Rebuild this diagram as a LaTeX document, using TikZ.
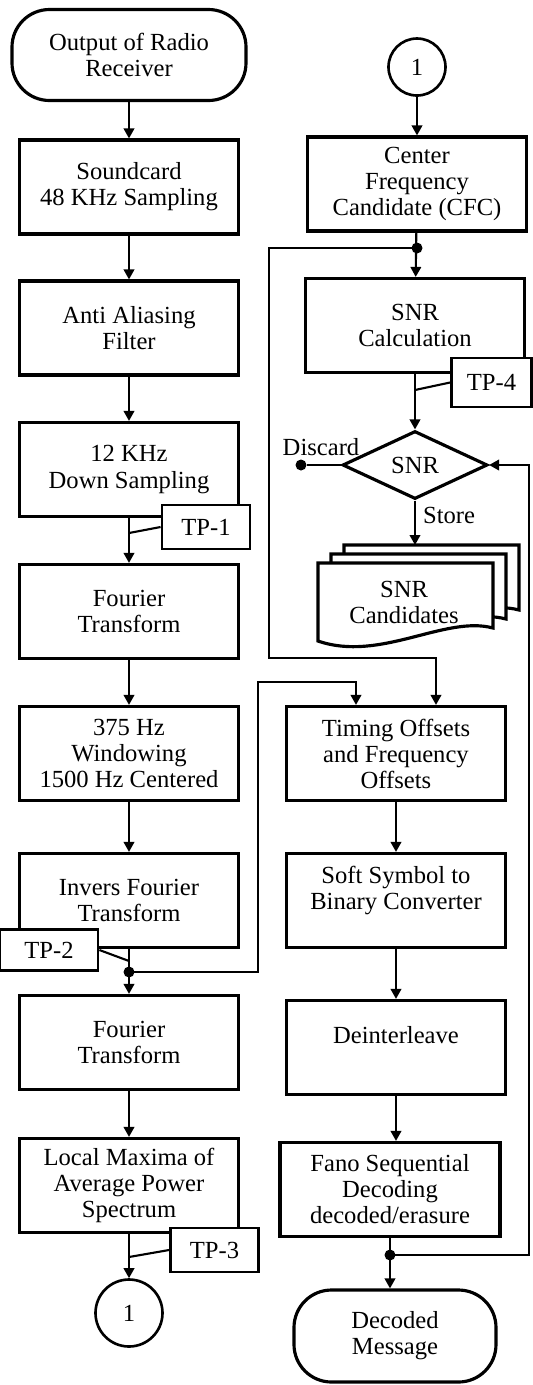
\documentclass[tikz,border=0pt]{standalone}
\usepackage{fontspec}
\setmainfont{Liberation Serif}
\usepackage{tikz}
\usetikzlibrary{arrows.meta,shapes.geometric}

\begin{document}
\begin{tikzpicture}[
  font=\fontsize{14}{14.8}\selectfont,
  box/.style={draw, line width=1.8pt, align=center, minimum width=4.38cm, minimum height=1.88cm, inner sep=2pt},
  term/.style={box, rounded corners=7.5mm, minimum height=1.82cm},
  tp/.style={draw, line width=1.6pt, fill=white, minimum width=1.76cm, minimum height=0.88cm, inner sep=1pt},
  conn/.style={draw, circle, line width=1.5pt, minimum size=1.34cm, inner sep=0pt},
  dec/.style={draw, diamond, aspect=2.1, line width=1.8pt, minimum width=2.9cm, minimum height=1.36cm, inner sep=1pt},
  dot/.style={circle, fill, inner sep=0pt, minimum size=0.22cm},
  doc/.style={draw, line width=1.8pt, fill=white},
  lbl/.style={inner sep=1pt},
  ln/.style={line width=1.2pt, draw=black},
  ar/.style={ln, -{Triangle[length=2mm, width=2.1mm]}}
]
  \useasboundingbox (0,0) rectangle (10.64,-27.70);

  \node[term, minimum width=4.68cm] (rx) at (2.58,-1.10) {Output of Radio\\Receiver};
  \node[box] (sc) at (2.58,-3.74) {Soundcard\\48 KHz Sampling};
  \node[box] (aaf) at (2.58,-6.56) {Anti Aliasing\\Filter};
  \node[box] (ds) at (2.58,-9.39) {12 KHz\\Down Sampling};
  \node[box] (ft1) at (2.58,-12.23) {Fourier\\Transform};
  \node[box] (win) at (2.58,-15.07) {375 Hz\\Windowing\\1500 Hz Centered};
  \node[box] (ift) at (2.58,-18.01) {Invers Fourier\\Transform};
  \node[box] (ft2) at (2.58,-20.85) {Fourier\\Transform};
  \node[box] (lmax) at (2.58,-23.71) {Local Maxima of\\Average Power\\Spectrum};
  \node[conn] (c1a) at (2.58,-26.26) {1};

  \node[tp] (tp1) at (4.12,-10.54) {TP-1};
  \node[tp, minimum width=1.96cm, minimum height=0.82cm] (tp2) at (0.98,-19.00) {TP-2};
  \node[tp] (tp3) at (4.29,-25.00) {TP-3};
  \node[dot] (d2) at (2.58,-19.44) {};
  \coordinate (j1) at (2.58,-10.66);
  \coordinate (j2) at (2.58,-19.22);
  \coordinate (j3) at (2.58,-25.14);

  \node[conn, minimum size=1.14cm] (c1b) at (8.34,-1.34) {1};
  \node[box] (cfc) at (8.34,-3.68) {Center\\Frequency\\Candidate (CFC)};
  \node[dot] (d1) at (8.34,-4.96) {};
  \node[box] (snrc) at (8.30,-6.51) {SNR\\Calculation};
  \node[tp, minimum width=1.6cm, minimum height=0.98cm] (tp4) at (9.83,-7.65) {TP-4};
  \coordinate (j4) at (8.30,-7.80);
  \node[dec] (snr) at (8.30,-9.30) {SNR};
  \node[dot] (disc) at (6.02,-9.30) {};
  \node[lbl] (disclbl) at (6.42,-8.94) {Discard};
  \node[lbl, anchor=west] (storelbl) at (8.42,-10.30) {Store};

  \foreach \k in {2,1,0}
    \draw[doc, shift={({0.26*\k},{0.18*\k})}] (6.36,-11.26) -- (9.86,-11.26) -- (9.86,-12.56)
      .. controls (8.9,-12.30) and (7.6,-13.25) .. (6.36,-12.82) -- cycle;
  \node[align=center] (cand) at (8.08,-12.04) {SNR\\Candidates};
  \coordinate (docs) at (8.30,-10.90);

  \node[box] (tim) at (7.92,-15.07) {Timing Offsets\\and Frequency\\Offsets};
  \node[box] (soft) at (7.92,-18.01) {Soft Symbol to\\Binary Converter\\\mbox{}};
  \node[box] (dint) at (7.92,-20.95) {Deinterleave\\\mbox{}};
  \node[box, minimum width=4.4cm] (fano) at (7.80,-23.79) {Fano Sequential\\Decoding\\decoded/erasure};
  \node[dot] (d3) at (7.80,-25.10) {};
  \node[term, minimum width=4.04cm, minimum height=1.84cm] (msg) at (7.90,-26.72) {Decoded\\Message};

  \coordinate (b1) at (5.38,-13.16);
  \coordinate (b2) at (5.16,-13.64);
  \coordinate (b3) at (10.58,-9.30);

  \draw[ar] (rx) -- (sc);
  \draw[ar] (sc) -- (aaf);
  \draw[ar] (aaf) -- (ds);
  \draw[ar] (ds) -- (ft1);
  \draw[ar] (ft1) -- (win);
  \draw[ar] (win) -- (ift);
  \draw[ar] (ift) -- (ft2);
  \draw[ar] (ft2) -- (lmax);
  \draw[ar] (lmax) -- (c1a);
  \draw[ln] (tp1.west) -- (j1);
  \draw[ln] (tp2.east) -- (j2);
  \draw[ln] (tp3.west) -- (j3);

  \draw[ar] (c1b) -- (cfc);
  \draw[ar] (cfc) -- (snrc);
  \draw[ar] (snrc) -- (snr);
  \draw[ln] (tp4.west) -- (j4);
  \draw[ln] (snr.west) -- (disc);
  \draw[ar] (snr) -- (docs);
  \draw[ar] (tim) -- (soft);
  \draw[ar] (soft) -- (dint);
  \draw[ar] (dint) -- (dint |- fano.north);
  \draw[ar] (fano) -- (fano |- msg.north);

  \draw[ar] (d1.center) -| (b1) -| ([xshift=8mm]tim.north);
  \draw[ar] (d2.center) -| (b2) -| ([xshift=-8mm]tim.north);
  \draw[ar] (d3.center) -| (b3) -- (snr.east);
\end{tikzpicture}
\end{document}
